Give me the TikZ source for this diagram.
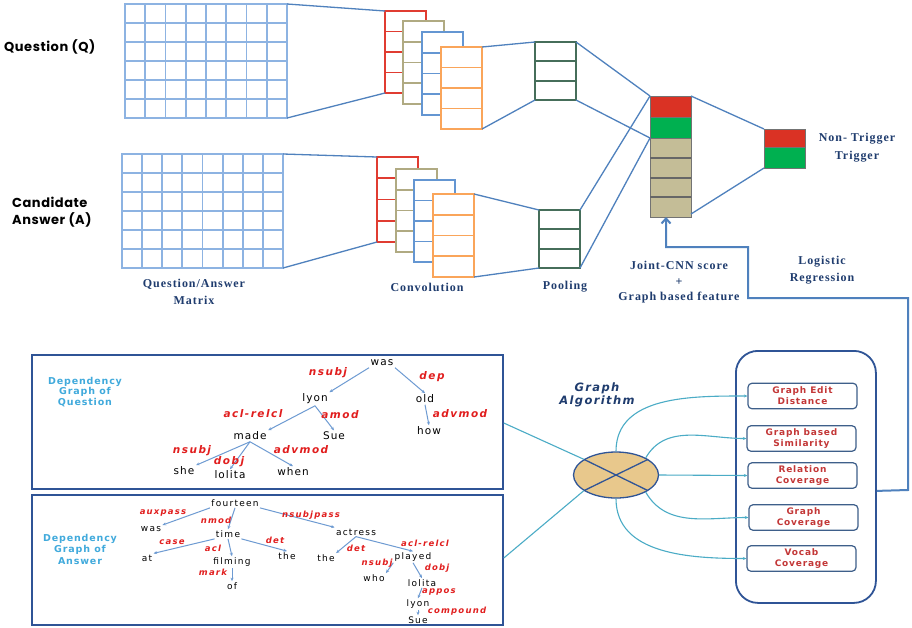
\documentclass[tikz,border=0pt]{standalone}
\usepackage{fontspec}
\setmainfont{Liberation Serif}
\newfontfamily\lblf[LetterSpace=8]{Liberation Serif}
\newfontfamily\headf[LetterSpace=4]{Poppins}
\newfontfamily\treef[LetterSpace=10]{DejaVu Sans}
\newfontfamily\treeaf[LetterSpace=14]{DejaVu Sans}
\newfontfamily\relf[LetterSpace=14]{DejaVu Sans}
\newfontfamily\titf[LetterSpace=9]{DejaVu Sans}
\newfontfamily\galf[LetterSpace=12]{DejaVu Sans}
\usetikzlibrary{arrows.meta,shapes.geometric,calc}
\definecolor{gridc}{RGB}{141,179,226}
\definecolor{cred}{RGB}{224,60,49}
\definecolor{ctan}{RGB}{176,170,130}
\definecolor{cblue}{RGB}{100,150,210}
\definecolor{corange}{RGB}{250,165,90}
\definecolor{cpool}{RGB}{70,110,90}
\definecolor{jred}{RGB}{218,50,36}
\definecolor{jgreen}{RGB}{0,176,80}
\definecolor{jtan}{RGB}{196,189,151}
\definecolor{linec}{RGB}{79,129,189}
\definecolor{navy}{RGB}{31,60,110}
\definecolor{framec}{RGB}{47,84,150}
\definecolor{boxframe}{RGB}{62,95,138}
\definecolor{cyanl}{RGB}{75,172,198}
\definecolor{titc}{RGB}{65,170,220}
\definecolor{lblred}{RGB}{225,30,30}
\definecolor{boxred}{RGB}{195,55,55}
\definecolor{ellfill}{RGB}{232,200,140}
\definecolor{edgec}{RGB}{110,155,210}
\newcommand\clayer[5]{%
  \node[draw=#4, fill=white, line width=1.8pt, minimum width=41pt, minimum height=#5pt, anchor=north west, inner sep=0pt, outer sep=0pt] (#1) at (#2,#3) {};
  \foreach \j in {1,2,3} \draw[#4, line width=1.8pt] (#2,#3+\j*#5/4) -- (#2+41,#3+\j*#5/4);
}
\newcommand\poolbox[3]{%
  \node[draw=cpool, fill=white, line width=1.6pt, minimum width=41pt, minimum height=58pt, anchor=north west, inner sep=0pt, outer sep=0pt] (#1) at (#2,#3) {};
  \foreach \j in {1,2} \draw[cpool, line width=1.8pt] (#2,#3+\j*58/3) -- (#2+41,#3+\j*58/3);
}
\tikzset{
  mat/.style={draw=gridc, line width=1.8pt, anchor=north west, inner sep=0pt, outer sep=0pt},
  gridl/.style={gridc, line width=1.8pt},
  conn/.style={linec, line width=1.3pt},
  cell/.style={draw=black!55, line width=0.8pt, minimum width=41pt, anchor=north west, inner sep=0pt, outer sep=0pt},
  lbl/.style={font=\lblf\bfseries\fontsize{12}{16.5}\selectfont, text=navy, inner sep=0pt, align=center},
  head/.style={font=\headf\bfseries\fontsize{13}{17.5}\selectfont, text=black, inner sep=0pt, align=left},
  qw/.style={font=\treef\fontsize{10.5}{11}\selectfont, inner sep=1.5pt},
  aw/.style={font=\treeaf\fontsize{9}{10}\selectfont, inner sep=1.2pt},
  qr/.style={font=\relf\bfseries\itshape\fontsize{10.5}{11}\selectfont, text=lblred, inner sep=0pt},
  ar/.style={font=\relf\bfseries\itshape\fontsize{8.5}{9}\selectfont, text=lblred, inner sep=0pt},
  tedge/.style={edgec, line width=1pt, -{Stealth[length=3.5pt,width=3pt]}},
  tit/.style={font=\titf\bfseries\fontsize{9.5}{10.5}\selectfont, text=titc, inner sep=0pt, align=center},
  panel/.style={draw=framec, line width=1.8pt, anchor=north west, inner sep=0pt},
  featbox/.style={draw=boxframe, line width=1.2pt, rounded corners=4pt, minimum width=109pt, minimum height=25.5pt, inner sep=0pt, align=center, font=\titf\bfseries\fontsize{9}{11}\selectfont, text=boxred},
  cyl/.style={cyanl, line width=1.1pt},
  cya/.style={cyanl, line width=1.1pt, -{Stealth[length=3.5pt,width=3pt]}},
  fb/.style={linec, line width=2pt, -{Straight Barb[length=5pt,width=9pt]}}
}
\begin{document}
\begin{tikzpicture}[x=1pt,y=-1pt]
\fill[white] (0,0) rectangle (912,627);
\useasboundingbox (0,0) rectangle (912,627);

% ---------- matrices ----------
\node[mat, minimum width=162pt, minimum height=114pt] (qm) at (125,4) {};
\foreach \i in {1,...,7} \draw[gridl] (125+\i*20.25,4) -- (125+\i*20.25,118);
\foreach \j in {1,...,5} \draw[gridl] (125,4+\j*19) -- (287,4+\j*19);
\node[mat, minimum width=161pt, minimum height=114pt] (am) at (122,154) {};
\foreach \i in {1,...,7} \draw[gridl] (122+\i*20.125,154) -- (122+\i*20.125,268);
\foreach \j in {1,...,5} \draw[gridl] (122,154+\j*19) -- (283,154+\j*19);

\node[head, anchor=west] (qlab) at (4,47) {Question (Q)};
\node[head, anchor=west] (alab) at (12,212) {Candidate\\Answer (A)};

% ---------- convolution ----------
\clayer{qc1}{385}{11}{cred}{82}
\clayer{qc2}{403}{21}{ctan}{83}
\clayer{qc3}{422}{32}{cblue}{83}
\clayer{qc4}{441}{47}{corange}{82}
\clayer{ac1}{377}{157}{cred}{85}
\clayer{ac2}{396}{169}{ctan}{83}
\clayer{ac3}{414}{180}{cblue}{82}
\clayer{ac4}{433}{194}{corange}{83}

\draw[conn] (qm.north east) -- (qc1.north west);
\draw[conn] (qm.south east) -- (qc1.south west);
\draw[conn] (am.north east) -- (ac1.north west);
\draw[conn] (am.south east) -- (ac1.south west);

% ---------- pooling ----------
\poolbox{qp}{535}{42}
\poolbox{ap}{539}{210}
\draw[conn] (qc4.north east) -- (qp.north west);
\draw[conn] (qc4.south east) -- (qp.south west);
\draw[conn] (ac4.north east) -- (ap.north west);
\draw[conn] (ac4.south east) -- (ap.south west);

% ---------- joint vector ----------
\node[cell, fill=jred, minimum height=21pt] (jr) at (650,96) {};
\node[cell, fill=jgreen, minimum height=21pt] (jg) at (650,117) {};
\node[cell, fill=jtan, minimum height=79pt] (jt) at (650,138) {};
\foreach \yy in {158,178,197} \draw[black!60, line width=1.2pt] (650,\yy) -- (691,\yy);

\draw[conn] (qp.north east) -- (jr.north west);
\draw[conn] (qp.south east) -- (jg.south west);
\draw[conn] (ap.north east) -- (jr.north west);
\draw[conn] (ap.south east) -- (jg.south west);

% ---------- output ----------
\node[cell, fill=jred, minimum height=18pt] (or) at (764,129) {};
\node[cell, fill=jgreen, minimum height=21pt] (og) at (764,147) {};
\draw[conn] (jr.north east) -- (or.north west);
\draw[conn] ($(jt.south east)+(0,-3)$) -- (og.south west);

\node[lbl] (nt) at (857,139) {Non- Trigger};
\node[lbl] (tr) at (857,157) {Trigger};

% ---------- labels ----------
\node[lbl] (qal) at (194,292) {Question/Answer\\Matrix};
\node[lbl] (cvl) at (427,287) {Convolution};
\node[lbl] (pll) at (565,287) {Pooling};
\node[lbl] (jcl) at (679,265) {Joint-CNN score};
\node[lbl] (plus) at (679,282) {+};
\node[lbl] (gbf) at (679,298) {Graph based feature};
\node[lbl] (lrl) at (822,270) {Logistic\\Regression};

% ---------- dependency panels ----------
\node[panel, minimum width=471pt, minimum height=134pt] (qbox) at (31,354) {};
\node[panel, minimum width=471pt, minimum height=130pt] (abox) at (31,494) {};
\node[tit] (qtit) at (85,392) {Dependency\\Graph of\\Question};
\node[tit, font=\titf\bfseries\fontsize{9.5}{11.5}\selectfont] (atit) at (80,549) {Dependency\\Graph of\\Answer};

% question tree
\node[qw] (qwas) at (382,363) {was};
\node[qw] (qlyon) at (315,399) {lyon};
\node[qw] (qold) at (425,399) {old};
\node[qw] (qmade) at (250,436) {made};
\node[qw] (qsue) at (334,436) {Sue};
\node[qw] (qhow) at (429,431) {how};
\node[qw] (qshe) at (184,471) {she};
\node[qw] (qlol) at (230,475) {lolita};
\node[qw] (qwhen) at (293,472) {when};
\draw[tedge] (qwas.south west) -- (qlyon.north east);
\draw[tedge] (qwas.south east) -- (qold.north);
\draw[tedge] (qlyon.south) -- (qmade.north east);
\draw[tedge] (qlyon.south) -- (qsue.north);
\draw[tedge] (qold.south) -- (qhow.north);
\draw[tedge] (qmade.south) -- (qshe.north east);
\draw[tedge] (qmade.south) -- (qlol.north);
\draw[tedge] (qmade.south) -- (qwhen.north);
\node[qr] at (328,373) {nsubj};
\node[qr] at (432,377) {dep};
\node[qr] at (253,414) {acl-relcl};
\node[qr] at (340,415) {amod};
\node[qr] at (460,414) {advmod};
\node[qr] at (192,451) {nsubj};
\node[qr] at (229,462) {dobj};
\node[qr] at (301,450) {advmod};

% answer tree
\node[aw] (afour) at (235,503) {fourteen};
\node[aw] (awas) at (151,529) {was};
\node[aw] (atime) at (228,534) {time};
\node[aw] (aact) at (356,532) {actress};
\node[aw] (aat) at (147,558) {at};
\node[aw] (afilm) at (232,562) {filming};
\node[aw] (athe) at (287,556) {the};
\node[aw] (athb) at (326,558) {the};
\node[aw] (aplay) at (413,557) {played};
\node[aw] (aof) at (232,586) {of};
\node[aw] (awho) at (374,578) {who};
\node[aw] (alol) at (422,583) {lolita};
\node[aw] (alyon) at (418,604) {lyon};
\node[aw] (asue) at (418,620) {Sue};
\draw[tedge] (afour.south west) -- (awas.north east);
\draw[tedge] (afour.south) -- (atime.north);
\draw[tedge] (afour.south east) -- (aact.north west);
\draw[tedge] (atime.south west) -- (aat.north east);
\draw[tedge] (atime.south) -- (afilm.north);
\draw[tedge] (atime.south east) -- (athe.north);
\draw[tedge] (afilm.south) -- (aof.north);
\draw[tedge] (aact.south) -- (athb.north east);
\draw[tedge] (aact.south) -- (aplay.north);
\draw[tedge] (aplay.south west) -- (awho.north east);
\draw[tedge] (aplay.south) -- (alol.north);
\draw[tedge] (alol.south) -- (alyon.north);
\draw[tedge] (alyon.south) -- (asue.north);
\node[ar] at (163,513) {auxpass};
\node[ar] at (216,520) {nmod};
\node[ar] at (311,515) {nsubjpass};
\node[ar] at (172,542) {case};
\node[ar] at (213,548) {acl};
\node[ar] at (275,540) {det};
\node[ar] at (356,548) {det};
\node[ar] at (425,543) {acl-relcl};
\node[ar] at (213,572) {mark};
\node[ar] at (377,563) {nsubj};
\node[ar] at (437,568) {dobj};
\node[ar] at (439,592) {appos};
\node[ar] at (457,611) {compound};

% ---------- graph algorithm ----------
\node[ellipse, draw=framec, fill=ellfill, line width=1.3pt, minimum width=85pt, minimum height=46pt, inner sep=0pt] (ell) at (616,475) {};
\draw[framec, line width=1.3pt] (ell.154) -- (ell.-26);
\draw[framec, line width=1.3pt] (ell.206) -- (ell.26);
\node[font=\galf\bfseries\itshape\fontsize{11.5}{12.5}\selectfont, text=navy, align=center, inner sep=0pt] (gal) at (597,395) {Graph\\Algorithm};
\draw[cyl] ($(qbox.north east)+(0,69)$) -- (ell.154);
\draw[cyl] ($(abox.north east)+(0,64)$) -- (ell.206);

% ---------- features panel ----------
\node[panel, rounded corners=22pt, minimum width=140pt, minimum height=252pt] (pan) at (735,350) {};
\node[featbox] (b1) at (802.5,396) {Graph Edit\\Distance};
\node[featbox] (b2) at (801.5,438.5) {Graph based\\Similarity};
\node[featbox] (b3) at (802.5,475.5) {Relation\\Coverage};
\node[featbox] (b4) at (803.5,517.5) {Graph\\Coverage};
\node[featbox] (b5) at (801.5,558.5) {Vocab\\Coverage};
\draw[cya] (ell.north) to[out=90,in=180] (b1.west);
\draw[cya] (ell.30) to[out=60,in=180] (b2.west);
\draw[cya] (ell.east) -- (b3.west);
\draw[cya] (ell.-30) to[out=-60,in=180] (b4.west);
\draw[cya] (ell.south) to[out=-90,in=180] (b5.west);

% ---------- feedback arrow ----------
\coordinate (f1) at (908,490);
\coordinate (f2) at (908,298);
\coordinate (f3) at (748,298);
\coordinate (f4) at (748,247);
\coordinate (f5) at (666,247);
\draw[fb] ($(pan.east)+(0,14)$) -- (f1) -- (f2) -- (f3) -- (f4) -- (f5) -- (f5 |- jt.south);
\end{tikzpicture}
\end{document}
